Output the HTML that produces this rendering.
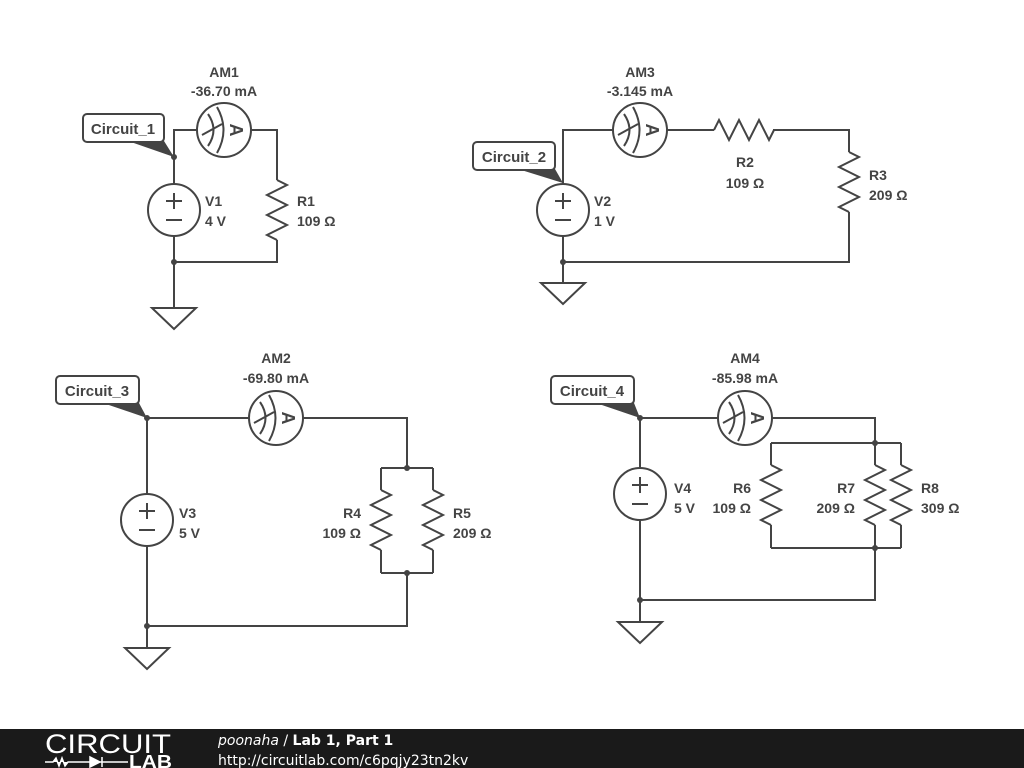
<!DOCTYPE html>
<html><head><meta charset="utf-8"><style>
html,body{margin:0;padding:0;background:#fff;}
svg{display:block;}
text{font-family:"Liberation Sans",sans-serif;font-weight:bold;font-size:14px;fill:#444;}
.w{stroke:#444;stroke-width:2;fill:none;}
.c{stroke:#444;stroke-width:2;fill:#fff;}
</style></head><body>
<svg width="1024" height="768" viewBox="0 0 1024 768" xmlns="http://www.w3.org/2000/svg">
<defs>
<g id="am">
<circle r="27" class="c"/>
<path class="w" d="M-16,-16 Q-5,0 -16,16 M-7,-23 Q6,0 -7,23 M-22,5 L-2,-6" stroke-width="1.3"/>
<text x="0" y="0" transform="rotate(90) translate(0,-11)" text-anchor="middle" dy="5" style="font-size:18px;fill:#444">A</text>
</g>
<g id="vs">
<circle r="26" class="c"/>
<path class="w" d="M-8,-9 h16 M0,-17 v16 M-8,10 h16" stroke-width="1.6"/>
</g>
<path id="rv" class="w" d="M0,0 l10,5 l-20,10 l20,10 l-20,10 l20,10 l-20,10 l10,5"/>
<path id="rh" class="w" d="M0,0 l5,-10 l10,20 l10,-20 l10,20 l10,-20 l10,20 l5,-10"/>
<path id="gnd" class="w" d="M-22,0 h44 l-22,21 z"/>
</defs>

<!-- Circuit 1 -->
<path class="w" d="M174,157 V130 H197 M251,130 H277 V180 M277,240 V262 H174 V308 M174,157 V184 M174,236 V262"/>
<use href="#am" x="224" y="130"/>
<use href="#vs" x="174" y="210"/>
<use href="#rv" x="277" y="180"/>
<use href="#gnd" x="174" y="308"/>
<circle cx="174" cy="157" r="3" fill="#444"/><circle cx="174" cy="262" r="3" fill="#444"/>
<text x="224" y="77" text-anchor="middle">AM1</text><text x="224" y="96" text-anchor="middle">-36.70 mA</text>
<text x="205" y="206">V1</text><text x="205" y="226">4 V</text>
<text x="297" y="206">R1</text><text x="297" y="226">109 Ω</text>
<path d="M128,141 L164,141 L174,157 Z" fill="#444"/>
<rect x="83" y="114" width="81" height="28" rx="4" fill="#fff" stroke="#444" stroke-width="2"/>
<text x="123" y="134" text-anchor="middle" style="font-size:15px">Circuit_1</text>

<!-- Circuit 2 -->
<path class="w" d="M563,184 V130 H613 M667,130 H714 M773,130 H849 V152 M849,212 V262 H563 V283 M563,236 V262"/>
<use href="#am" x="640" y="130"/>
<use href="#vs" x="563" y="210"/>
<use href="#rh" x="714" y="130"/>
<use href="#rv" x="849" y="152"/>
<use href="#gnd" x="563" y="283"/>
<circle cx="563" cy="262" r="3" fill="#444"/>
<text x="640" y="77" text-anchor="middle">AM3</text><text x="640" y="96" text-anchor="middle">-3.145 mA</text>
<text x="594" y="206">V2</text><text x="594" y="226">1 V</text>
<text x="745" y="167" text-anchor="middle">R2</text><text x="745" y="188" text-anchor="middle">109 Ω</text>
<text x="869" y="180">R3</text><text x="869" y="200">209 Ω</text>
<path d="M518,169 L555,169 L563,183 Z" fill="#444"/>
<rect x="473" y="142" width="82" height="28" rx="4" fill="#fff" stroke="#444" stroke-width="2"/>
<text x="514" y="162" text-anchor="middle" style="font-size:15px">Circuit_2</text>

<!-- Circuit 3 -->
<path class="w" d="M147,418 H249 M303,418 H407 V468 M381,468 H433 M381,468 V490 M433,468 V490 M381,550 V573 M433,550 V573 M381,573 H433 M407,573 V626 H147 V648 M147,418 V494 M147,546 V626"/>
<use href="#am" x="276" y="418"/>
<use href="#vs" x="147" y="520"/>
<use href="#rv" x="381" y="490"/>
<use href="#rv" x="433" y="490"/>
<use href="#gnd" x="147" y="648"/>
<circle cx="147" cy="418" r="3" fill="#444"/><circle cx="407" cy="468" r="3" fill="#444"/><circle cx="407" cy="573" r="3" fill="#444"/><circle cx="147" cy="626" r="3" fill="#444"/>
<text x="276" y="363" text-anchor="middle">AM2</text><text x="276" y="383" text-anchor="middle">-69.80 mA</text>
<text x="179" y="518">V3</text><text x="179" y="538">5 V</text>
<text x="361" y="518" text-anchor="end">R4</text><text x="361" y="538" text-anchor="end">109 Ω</text>
<text x="453" y="518">R5</text><text x="453" y="538">209 Ω</text>
<path d="M103,403 L139,403 L147,418 Z" fill="#444"/>
<rect x="56" y="376" width="83" height="28" rx="4" fill="#fff" stroke="#444" stroke-width="2"/>
<text x="97" y="396" text-anchor="middle" style="font-size:15px">Circuit_3</text>

<!-- Circuit 4 -->
<path class="w" d="M640,418 H718 M772,418 H875 V443 M771,443 H901 M771,443 V465 M875,443 V465 M901,443 V465 M771,525 V548 M875,525 V548 M901,525 V548 M771,548 H901 M875,548 V600 H640 V622 M640,418 V468 M640,520 V600"/>
<use href="#am" x="745" y="418"/>
<use href="#vs" x="640" y="494"/>
<use href="#rv" x="771" y="465"/>
<use href="#rv" x="875" y="465"/>
<use href="#rv" x="901" y="465"/>
<use href="#gnd" x="640" y="622"/>
<circle cx="640" cy="418" r="3" fill="#444"/><circle cx="875" cy="443" r="3" fill="#444"/><circle cx="875" cy="548" r="3" fill="#444"/><circle cx="640" cy="600" r="3" fill="#444"/>
<text x="745" y="363" text-anchor="middle">AM4</text><text x="745" y="383" text-anchor="middle">-85.98 mA</text>
<text x="674" y="493">V4</text><text x="674" y="513">5 V</text>
<text x="751" y="493" text-anchor="end">R6</text><text x="751" y="513" text-anchor="end">109 Ω</text>
<text x="855" y="493" text-anchor="end">R7</text><text x="855" y="513" text-anchor="end">209 Ω</text>
<text x="921" y="493">R8</text><text x="921" y="513">309 Ω</text>
<path d="M596,403 L634,403 L640,418 Z" fill="#444"/>
<rect x="551" y="376" width="83" height="28" rx="4" fill="#fff" stroke="#444" stroke-width="2"/>
<text x="592" y="396" text-anchor="middle" style="font-size:15px">Circuit_4</text>

<!-- Footer -->
<rect x="0" y="729" width="1024" height="39" fill="#1a1a1a"/>
<text x="45" y="753" textLength="126" lengthAdjust="spacingAndGlyphs" style="font-size:27px;font-weight:normal;fill:#fff">CIRCUIT</text>
<path d="M45,762 h8 l3,-4 l3,8 l3,-8 l3,8 l3,-4 h14 M82,762 h20 M90,757 v10 l10,-5 z M102,757 v10 M102,762 h26" stroke="#fff" stroke-width="1.5" fill="#fff"/>
<text x="129" y="768" textLength="43" lengthAdjust="spacingAndGlyphs" style="font-size:18px;fill:#fff;font-weight:bold">LAB</text>
<text x="218" y="745" style="font-family:'DejaVu Sans',sans-serif;font-size:14px;fill:#fff;font-weight:normal"><tspan font-style="italic">poonaha</tspan> / <tspan font-weight="bold">Lab 1, Part 1</tspan></text>
<text x="218" y="765" style="font-family:'DejaVu Sans',sans-serif;font-size:14px;fill:#fff;font-weight:normal">http://circuitlab.com/c6pqjy23tn2kv</text>
</svg>
</body></html>
